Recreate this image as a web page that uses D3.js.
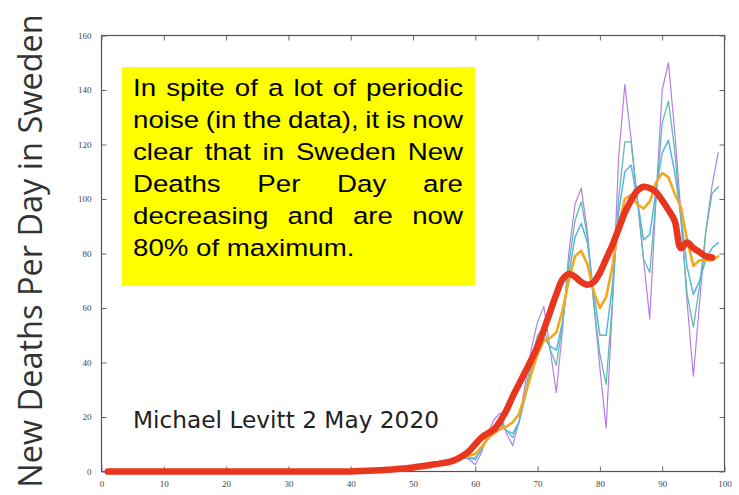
<!DOCTYPE html>
<html>
<head>
<meta charset="utf-8">
<script src="https://cdn.jsdelivr.net/npm/d3@7"></script>
<style>
  body { margin: 0; background: #fff; }
  svg { display: block; }
</style>
</head>
<body>
<script>
// day numbers and values
var xTicks = [0, 10, 20, 30, 40, 50, 60, 70, 80, 90, 100];
var yTicks = [0, 20, 40, 60, 80, 100, 120, 140, 160];

// thin lines start at day 50
var thinStart = 50;
var rawDaily = [1.2, 1.5, 1.8, 2.1, 2.5, 2.8, 3.2, 4, 5, 4.5,
  2.5, 7, 14, 19, 21.5, 14, 9.5, 18, 32, 45,
  55, 60.5, 45, 29, 52, 80, 98, 104, 88, 62,
  38, 16, 60, 115, 142, 122, 100, 78, 56, 100,
  140, 150, 125, 95, 62, 35, 62, 88, 105, 117];
var smoothA = [1.2, 1.5, 1.8, 2.1, 2.5, 2.8, 3.2, 4, 5, 4.8,
  4.3, 8, 13, 16, 18.5, 15, 12.5, 18, 29, 41,
  50, 52.5, 45, 39, 54, 76, 92, 99, 86, 62,
  43, 32, 62, 100, 121, 121, 100, 78, 73, 100,
  128, 136, 118, 92, 65, 53, 68, 88, 102, 104.5];
var smoothB = [1.2, 1.5, 1.8, 2.1, 2.5, 2.8, 3.2, 4, 5, 5,
  5, 8, 12, 15, 17, 15, 14, 18, 27, 38,
  46, 49, 46, 44.5, 55, 72, 86, 91, 84, 66,
  50, 50, 68, 95, 110, 112.5, 100, 85, 87, 103,
  117, 121.5, 110, 94, 75, 65, 70, 78, 82, 84];
var smoothC = [1.2, 1.5, 1.8, 2.1, 2.5, 2.8, 3.2, 4, 5, 5.8,
  6.5, 9, 12, 14, 15.5, 16.5, 18, 21, 28, 36,
  43, 48, 49, 51, 59, 70, 79, 81, 76, 66,
  60, 64, 75, 90, 100, 101.5, 98, 96.5, 99, 106,
  109.5, 108, 102, 97, 85, 75.5, 77.5, 77.5, 77.5, 79];
// the heavy red line starts at day 1
var redStart = 1;
var smoothRed = [0, 0, 0, 0, 0, 0, 0, 0, 0, 0,
  0, 0, 0, 0, 0, 0, 0, 0, 0, 0,
  0, 0, 0, 0, 0, 0, 0, 0, 0, 0,
  0, 0, 0, 0, 0, 0, 0, 0, 0, 0,
  0.1, 0.2, 0.3, 0.4, 0.5, 0.6, 0.8, 1, 1.2, 1.5,
  1.8, 2.1, 2.5, 2.8, 3.2, 3.6, 4.5, 5.8, 7.5, 10,
  12.5, 14, 15.5, 18.5, 22.5, 27.5, 32, 36.5, 41, 46,
  52, 58.5, 65, 70.5, 72.5, 71.5, 69.5, 68.5, 69.5, 73,
  78, 83, 89, 95, 99.5, 103, 104.5, 104, 102.5, 99.5,
  96, 92, 82, 84, 82, 80.5, 79, 78.5];

var noteLines = [
  "In spite of a lot of periodic",
  "noise (in the data), it is now",
  "clear that in Sweden New",
  "Deaths Per Day are",
  "decreasing and are now",
  "80% of maximum."
];
var signature = "Michael Levitt 2 May 2020";
var yTitle = "New Deaths Per Day in Sweden";

var W = 739, H = 495;
var svg = d3.select("body").append("svg")
  .attr("width", W)
  .attr("height", H);

var plot = {left: 101.5, right: 724.5, top: 35.5, bottom: 471.5};

var x = d3.scaleLinear().domain([0, 100]).range([plot.left, plot.right]);
var y = d3.scaleLinear().domain([0, 160]).range([plot.bottom, plot.top]);

// frame
svg.append("rect")
  .attr("x", plot.left).attr("y", plot.top)
  .attr("width", plot.right - plot.left)
  .attr("height", plot.bottom - plot.top)
  .style("fill", "none")
  .style("stroke", "#555")
  .style("stroke-width", 1.2);

// axes, ticks pointing inward
function styleAxis(g) {
  g.select(".domain").remove();
  g.selectAll(".tick line").style("stroke", "#666");
  g.selectAll(".tick text")
    .style("font-family", "'Liberation Serif', serif")
    .style("font-size", "9px")
    .style("fill", "#444");
}

svg.append("g")
  .attr("transform", "translate(0," + plot.bottom + ")")
  .call(d3.axisBottom(x).tickValues(xTicks).tickSizeInner(-5).tickSizeOuter(0).tickPadding(9))
  .call(styleAxis);
svg.append("g")
  .attr("transform", "translate(0," + plot.top + ")")
  .call(d3.axisTop(x).tickValues(xTicks).tickSizeInner(-5).tickSizeOuter(0).tickFormat(""))
  .call(styleAxis);
svg.append("g")
  .attr("transform", "translate(" + plot.left + ",0)")
  .call(d3.axisLeft(y).tickValues(yTicks).tickSizeInner(-5).tickSizeOuter(0).tickPadding(10))
  .call(styleAxis);
svg.append("g")
  .attr("transform", "translate(" + plot.right + ",0)")
  .call(d3.axisRight(y).tickValues(yTicks).tickSizeInner(-5).tickSizeOuter(0).tickFormat(""))
  .call(styleAxis);

// y title
svg.append("text")
  .attr("transform", "translate(42," + 251 + ") rotate(-90)")
  .attr("text-anchor", "middle")
  .style("font-family", "'Open Sans', sans-serif")
  .style("font-size", "32.5px")
  .style("fill", "#333")
  .text(yTitle);

// yellow note
svg.append("rect")
  .attr("x", 122).attr("y", 67)
  .attr("width", 353).attr("height", 219)
  .style("fill", "#ffff00");

// text in the note looks stretched sideways, so scale it a little
var sx = 1.13;
var noteLeft = 133, noteRight = 463;
var note = svg.append("g")
  .attr("transform", "translate(" + noteLeft + ",0) scale(" + sx + ",1)");
var span = (noteRight - noteLeft) / sx;
noteLines.forEach(function(line, i) {
  var words = line.split(" ");
  var by = 96 + i * 32;
  var nodes = words.map(function(w) {
    return note.append("text")
      .attr("y", by)
      .style("font-family", "'Liberation Sans', Arial, sans-serif")
      .style("font-size", "24.5px")
      .style("fill", "#000")
      .text(w);
  });
  var widths = nodes.map(function(n) { return n.node().getComputedTextLength(); });
  var total = d3.sum(widths);
  var gap = 6.8;
  if (i < noteLines.length - 1 && words.length > 1) {
    gap = (span - total) / (words.length - 1);
  }
  var cx = 0;
  nodes.forEach(function(n, k) {
    n.attr("x", cx);
    cx += widths[k] + gap;
  });
});

// data lines
function series(vals, start) {
  return vals.map(function(v, i) { return {day: start + i, v: v}; });
}
var line = d3.line()
  .x(function(d) { return x(d.day); })
  .y(function(d) { return y(d.v); });
var smoothLine = d3.line()
  .curve(d3.curveCatmullRom.alpha(0.5))
  .x(function(d) { return x(d.day); })
  .y(function(d) { return y(d.v); });

var layers = [
  {vals: rawDaily, start: thinStart, color: "#b57ee8", width: 1.2, gen: line},
  {vals: smoothA, start: thinStart, color: "#5fbcaa", width: 1.3, gen: line},
  {vals: smoothB, start: thinStart, color: "#5ab4e0", width: 1.5, gen: line},
  {vals: smoothC, start: thinStart, color: "#f2a81d", width: 2.6, gen: line},
  {vals: smoothRed, start: redStart, color: "#e8371e", width: 6.5, gen: smoothLine}
];

svg.selectAll("path.series")
  .data(layers)
  .enter()
  .append("path")
  .attr("class", "series")
  .attr("d", function(d) { return d.gen(series(d.vals, d.start)); })
  .style("fill", "none")
  .style("stroke", function(d) { return d.color; })
  .style("stroke-width", function(d) { return d.width; })
  .style("stroke-linejoin", "round")
  .style("stroke-linecap", "round");

// signature
svg.append("text")
  .attr("x", 133).attr("y", 428)
  .attr("textLength", 306)
  .attr("lengthAdjust", "spacingAndGlyphs")
  .style("font-family", "'DejaVu Sans', sans-serif")
  .style("font-size", "23px")
  .style("fill", "#222")
  .text(signature);
</script>
</body>
</html>
